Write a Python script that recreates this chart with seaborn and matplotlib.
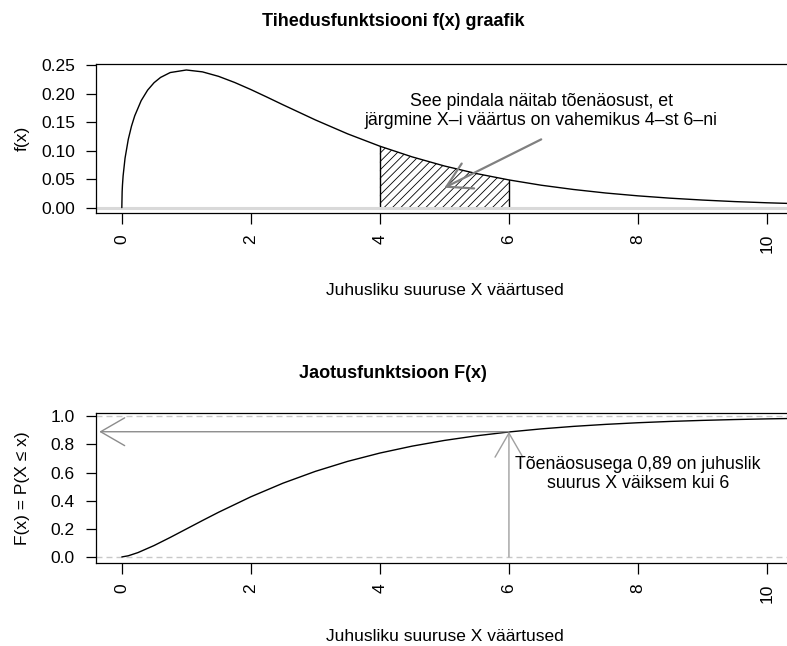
import matplotlib
matplotlib.use("Agg")
import matplotlib.pyplot as plt
import seaborn as sns
import pandas as pd

# ---- data ----
x_pdf = [0.0, 0.005, 0.01, 0.02, 0.05, 0.1, 0.15, 0.2, 0.3, 0.4, 0.5, 0.6, 0.75,
         1.0, 1.25, 1.5, 1.75, 2.0, 2.25, 2.5, 3.0, 3.5, 4.0, 4.5, 5.0, 5.5,
         6.0, 6.5, 7.0, 7.5, 8.0, 8.5, 9.0, 9.5, 10.0, 10.5]
f_pdf = [0.0, 0.0281, 0.0397, 0.0559, 0.0870, 0.1200, 0.1433, 0.1614, 0.1881,
         0.2066, 0.2197, 0.2289, 0.2375, 0.2420, 0.2387, 0.2308, 0.2200, 0.2076,
         0.1943, 0.1807, 0.1542, 0.1297, 0.1080, 0.0892, 0.0732, 0.0598, 0.0487,
         0.0394, 0.0319, 0.0257, 0.0207, 0.0166, 0.0133, 0.0106, 0.0085, 0.0068]

x_cdf = [0.0, 0.1, 0.25, 0.5, 0.75, 1.0, 1.25, 1.5, 2.0, 2.5, 3.0, 3.5, 4.0,
         4.5, 5.0, 5.5, 6.0, 6.5, 7.0, 7.5, 8.0, 8.5, 9.0, 9.5, 10.0, 10.5]
F_cdf = [0.0, 0.0082, 0.0309, 0.0811, 0.1386, 0.1987, 0.2589, 0.3177, 0.4276,
         0.5247, 0.6084, 0.6793, 0.7385, 0.7877, 0.8282, 0.8614, 0.8884, 0.9103,
         0.9281, 0.9424, 0.9540, 0.9633, 0.9707, 0.9767, 0.9814, 0.9852]

area_from, area_to = 4.0, 6.0
prob_x, prob_F = 6.0, 0.89

x_ticks = [0, 2, 4, 6, 8, 10]
x_tick_labels = ["0", "2", "4", "6", "8", "10"]
y1_ticks = [0.00, 0.05, 0.10, 0.15, 0.20, 0.25]
y1_tick_labels = ["0.00", "0.05", "0.10", "0.15", "0.20", "0.25"]
y2_ticks = [0.0, 0.2, 0.4, 0.6, 0.8, 1.0]
y2_tick_labels = ["0.0", "0.2", "0.4", "0.6", "0.8", "1.0"]

title1 = "Tihedusfunktsiooni f(x) graafik"
title2 = "Jaotusfunktsioon F(x)"
xlab = "Juhusliku suuruse X väärtused"
ylab1 = "f(x)"
ylab2 = "F(x) = P(X ≤ x)"
note1 = "See pindala näitab tõenäosust, et\njärgmine X–i väärtus on vahemikus 4–st 6–ni"
note2 = "Tõenäosusega 0,89 on juhuslik\nsuurus X väiksem kui 6"

# ---- style ----
sns.set_style("ticks")
plt.rcParams["font.family"] = ["Liberation Sans", "DejaVu Sans"]
plt.rcParams["hatch.linewidth"] = 0.6
for key in ("text.color", "axes.labelcolor", "xtick.color", "ytick.color",
            "axes.edgecolor"):
    plt.rcParams[key] = "black"
FS = 12.5
FS_NOTE = 12.8

pdf_df = pd.DataFrame({"x": x_pdf, "f": f_pdf})
cdf_df = pd.DataFrame({"x": x_cdf, "F": F_cdf})

fig = plt.figure(figsize=(7.87, 6.46), dpi=100)
ax1 = fig.add_axes([0.1220, 0.6698, 0.8854, 0.2311])
ax2 = fig.add_axes([0.1220, 0.1285, 0.8854, 0.2317])

# ---- top panel ----
seg = pdf_df[(pdf_df.x >= area_from) & (pdf_df.x <= area_to)]
ax1.fill_between(seg.x, 0, seg.f, facecolor="none", edgecolor="black",
                 hatch="////", linewidth=0, zorder=1)
ax1.plot([area_from, area_from], [0, seg.f.iloc[0]], color="black", lw=1)
ax1.plot([area_to, area_to], [0, seg.f.iloc[-1]], color="black", lw=1)
sns.lineplot(data=pdf_df, x="x", y="f", ax=ax1, color="black", lw=1,
             estimator=None, sort=False, zorder=3)
ax1.axhline(0, color="#d9d9d9", lw=2.2, zorder=2)
ax1.annotate("", xy=(5.0, 0.035), xytext=(6.5, 0.12),
             arrowprops=dict(arrowstyle="->,head_length=1.73,head_width=1.0",
                             mutation_scale=10, color="#808080", lw=1.6,
                             shrinkA=0, shrinkB=0), zorder=4)
ax1.text(6.5, 0.170, note1, ha="center", va="center", fontsize=FS_NOTE,
         linespacing=1.2)
ax1.set_xlim(-0.4, 10.4)
ax1.set_ylim(-0.0100, 0.2525)
ax1.set_yticks(y1_ticks, y1_tick_labels)

# ---- bottom panel ----
ax2.axhline(0, color="#c8c8c8", lw=1, ls=(0, (4.3, 2.9)))
ax2.axhline(1, color="#c8c8c8", lw=1, ls=(0, (4.3, 2.9)))
sns.lineplot(data=cdf_df, x="x", y="F", ax=ax2, color="black", lw=1,
             estimator=None, sort=False, zorder=3)
ax2.annotate("", xy=(prob_x, prob_F), xytext=(prob_x, 0),
             arrowprops=dict(arrowstyle="->,head_length=1.73,head_width=1.0",
                             mutation_scale=10, color="#a0a0a0", lw=1.0,
                             shrinkA=0, shrinkB=0))
ax2.annotate("", xy=(-0.35, prob_F), xytext=(prob_x, prob_F),
             arrowprops=dict(arrowstyle="->,head_length=1.73,head_width=1.0",
                             mutation_scale=10, color="#8c8c8c", lw=1.0,
                             shrinkA=0, shrinkB=0))
ax2.text(8.0, 0.59, note2, ha="center", va="center", fontsize=FS_NOTE,
         linespacing=1.2)
ax2.set_xlim(-0.4, 10.4)
ax2.set_ylim(-0.043, 1.021)
ax2.set_yticks(y2_ticks, y2_tick_labels)

for ax, yl, xly in ((ax1, ylab1, -0.520), (ax2, ylab2, -0.494)):
    ax.set_xticks(x_ticks, x_tick_labels)
    ax.tick_params(axis="x", length=7.9, width=0.9, pad=7, labelsize=FS,
                   labelrotation=90, color="black", labelcolor="black")
    ax.tick_params(axis="y", length=7.2, width=0.9, pad=8, labelsize=FS,
                   color="black", labelcolor="black")
    for s in ("left", "top", "bottom"):
        ax.spines[s].set_linewidth(0.9)
        ax.spines[s].set_color("black")
    ax.spines["right"].set_visible(False)
    ax.set_xlabel(xlab, fontsize=FS, color="black")
    ax.xaxis.label.set_va("center")
    ax.xaxis.set_label_coords(0.5, xly)
    ax.set_ylabel(yl, fontsize=FS, color="black")
    ax.yaxis.label.set_va("center")
    ax.yaxis.label.set_ha("center")
    ax.yaxis.set_label_coords(-0.106, 0.5)

fig.text(393 / 787, 1 - 25.7 / 646, title1, ha="center", va="baseline",
         fontsize=13, fontweight="bold", color="black")
fig.text(393 / 787, 1 - 378 / 646, title2, ha="center", va="baseline",
         fontsize=13, fontweight="bold", color="black")

fig.savefig("out.png", dpi=100, facecolor="white")
